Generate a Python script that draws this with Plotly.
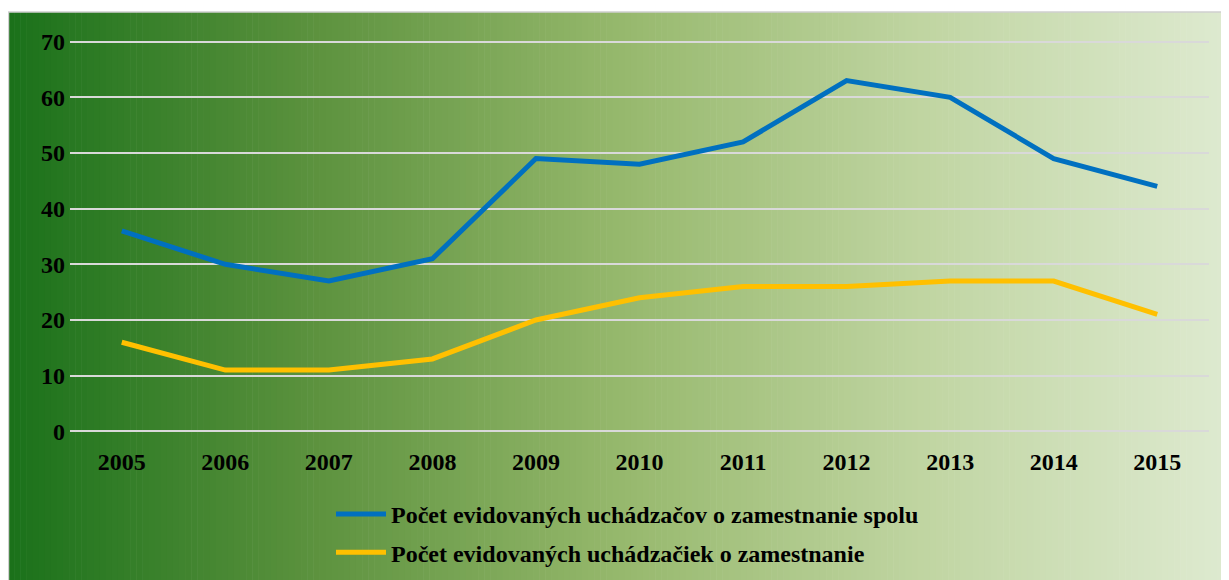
import plotly.graph_objects as go

years = ["2005", "2006", "2007", "2008", "2009", "2010", "2011", "2012", "2013", "2014", "2015"]
total = [36, 30, 27, 31, 49, 48, 52, 63, 60, 49, 44]
women = [16, 11, 11, 13, 20, 24, 26, 26, 27, 27, 21]
names = ["Počet evidovaných uchádzačov o zamestnanie spolu",
         "Počet evidovaných uchádzačiek o zamestnanie"]
colors = ["#0070C0", "#FFC000"]

# page is rendered with an 8px body margin, so figure coords = page coords - 8
W, H = 1221, 572
ml, mr, mt, mb = 62, 20, 32, 147
pw, ph = W - ml - mr, H - mt - mb

def px2x(p):
    return (p - ml) / pw

def py2y(p):
    return (H - mb - p) / ph

stops = [(0.0, (26, 113, 26)), (0.25, (92, 146, 62)), (0.5, (150, 184, 108)),
         (0.75, (192, 213, 162)), (1.0, (222, 234, 208))]

def grad(t):
    for i in range(len(stops) - 1):
        a, ca = stops[i]
        b, cb = stops[i + 1]
        if a <= t <= b:
            f = (t - a) / (b - a)
            return "rgb(%d,%d,%d)" % tuple(round(ca[k] + (cb[k] - ca[k]) * f) for k in range(3))
    return "rgb(%d,%d,%d)" % stops[-1][1]

shapes = []
x0p, x1p = 0, W
N = 200
for i in range(N):
    a = x0p + (x1p - x0p) * i / N
    b = x0p + (x1p - x0p) * (i + 1) / N + 0.6
    shapes.append(dict(type="rect", xref="paper", yref="paper",
                       x0=px2x(a), x1=px2x(b), y0=py2y(H + 2), y1=py2y(4),
                       fillcolor=grad((i + 0.5) / N), line=dict(width=0), layer="below"))
shapes.append(dict(type="rect", xref="paper", yref="paper",
                   x0=px2x(0.5), x1=px2x(W + 5), y0=py2y(H + 5), y1=py2y(4),
                   fillcolor="rgba(0,0,0,0)", line=dict(color="#D0D0D0", width=1.5), layer="below"))

fig = go.Figure()
for nm, vals, c, g in zip(names, [total, women], colors, ["a", "b"]):
    fig.add_trace(go.Scatter(x=years, y=vals, mode="lines", name=nm, legendgroup=g,
                             line=dict(color=c, width=5)))

font = dict(family="Liberation Serif", size=24, color="black", weight="bold")
fig.update_layout(
    width=W, height=H,
    margin=dict(l=ml, r=mr, t=mt, b=mb, autoexpand=False),
    paper_bgcolor="white", plot_bgcolor="rgba(0,0,0,0)",
    shapes=shapes,
    font=font,
    xaxis=dict(type="category", range=[-0.5, 10.5], showgrid=False, zeroline=False,
               showline=False, tickfont=font, ticklabelstandoff=12, automargin=False),
    yaxis=dict(range=[-0.3, 70.3], dtick=10, tick0=0, showgrid=True, gridcolor="#D9D9D9",
               gridwidth=2, zeroline=True, zerolinecolor="#D9D9D9", zerolinewidth=2,
               showline=False, tickfont=font, ticklabelstandoff=4, automargin=False),
    legend=dict(x=px2x(323), y=py2y(484), xanchor="left", yanchor="top",
                bgcolor="rgba(0,0,0,0)", font=font, tracegroupgap=4, itemwidth=50),
    showlegend=True,
)
fig.write_html("out.html")
